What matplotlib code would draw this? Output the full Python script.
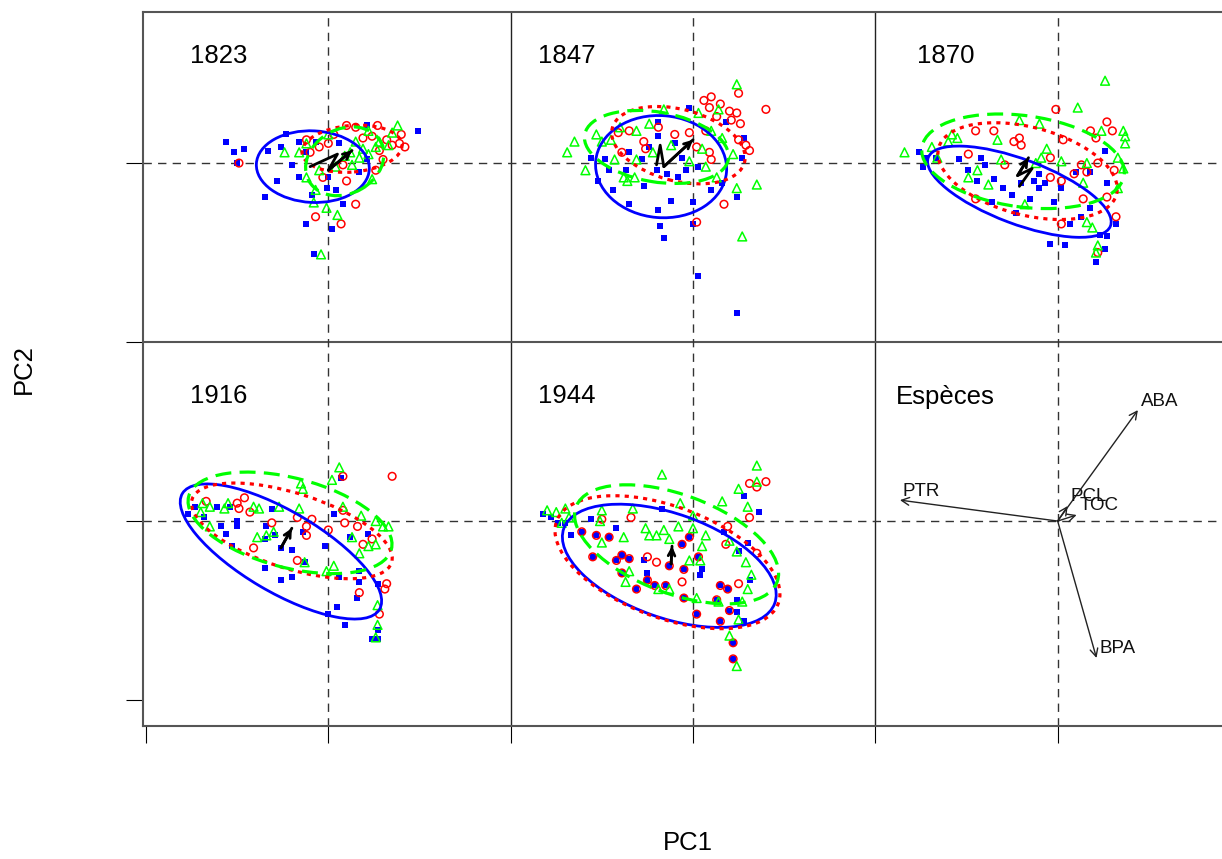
import numpy as np
import matplotlib.pyplot as plt
import matplotlib.transforms as mtransforms
from matplotlib.patches import Ellipse

plt.rcParams['font.family'] = ['Liberation Sans', 'DejaVu Sans']

# ---- scores, relative to each panel's origin ----
years = ["1823", "1847", "1870", "1916", "1944"]

blue_1823 = [(-0.56, 0.12), (-0.52, 0.06), (-0.46, 0.08), (-0.50, 0.0), (0.49, 0.18), (-0.33, 0.07),
             (-0.26, 0.09), (-0.23, 0.16), (-0.20, -0.01), (-0.28, -0.10), (-0.16, -0.08), (-0.35, -0.19),
             (-0.12, -0.34), (-0.08, -0.51), (0.02, -0.37), (0.08, -0.23), (0.04, -0.15), (-0.09, -0.18),
             (-0.01, -0.14), (-0.12, 0.06), (-0.07, 0.12), (0.06, 0.11), (0.21, 0.21), (0.17, -0.05),
             (0.21, 0.02), (-0.16, 0.12), (0.0, -0.08)]
red_1823 = [(0.27, 0.21), (0.15, 0.20), (0.10, 0.21), (0.19, 0.14), (0.24, 0.15), (0.32, 0.13), (0.39, 0.11),
            (0.42, 0.09), (0.40, 0.16), (-0.12, 0.13), (-0.05, 0.09), (-0.10, 0.06), (0.15, -0.23),
            (-0.07, -0.30), (0.07, -0.34), (0.10, -0.10), (0.08, -0.01), (0.28, 0.07), (0.26, -0.04),
            (0.0, 0.11), (0.03, 0.16), (-0.49, 0.0), (-0.03, -0.08), (0.35, 0.10), (0.30, 0.02)]
green_1823 = [(0.38, 0.21), (0.35, 0.17), (0.33, 0.10), (0.22, 0.18), (0.24, -0.09), (-0.07, -0.15),
              (-0.08, -0.22), (-0.01, -0.25), (0.05, -0.29), (-0.04, -0.51), (-0.24, 0.06), (-0.16, 0.06),
              (-0.12, 0.11), (0.0, 0.16), (0.12, 0.06), (0.17, 0.03), (0.13, -0.01), (0.19, 0.08),
              (-0.05, -0.04), (0.04, -0.02), (0.28, 0.12), (-0.12, -0.08), (0.22, 0.05), (0.26, 0.09),
              (0.15, 0.12), (0.09, 0.04)]

blue_1847 = [(-0.56, 0.03), (-0.52, -0.10), (-0.46, -0.04), (-0.35, -0.23), (-0.44, -0.15), (-0.27, -0.13),
             (-0.19, -0.26), (-0.18, -0.35), (-0.16, -0.42), (-0.12, -0.21), (0.0, -0.22), (0.0, -0.34),
             (0.24, -0.19), (0.28, 0.14), (0.18, 0.23), (0.27, 0.03), (-0.02, 0.31), (-0.19, 0.23),
             (-0.19, 0.15), (-0.35, 0.06), (-0.37, -0.04), (-0.28, 0.02), (-0.20, -0.04), (-0.14, -0.06),
             (-0.08, -0.08), (-0.04, -0.04), (-0.06, 0.03), (-0.10, 0.11), (0.03, -0.02), (0.10, -0.15),
             (0.16, -0.11), (-0.48, 0.02), (-0.24, 0.09), (0.24, -0.84), (0.03, -0.63)]
red_1847 = [(0.10, 0.37), (0.25, 0.39), (0.20, 0.29), (0.24, 0.28), (0.26, 0.22), (0.21, 0.24), (0.40, 0.30),
            (0.31, 0.07), (0.29, 0.10), (0.09, 0.31), (0.13, 0.26), (0.07, 0.18), (0.09, 0.06), (0.10, 0.02),
            (-0.02, 0.17), (0.02, 0.09), (-0.10, 0.16), (-0.26, 0.08), (-0.35, 0.18), (-0.41, 0.17),
            (-0.39, 0.06), (-0.27, 0.12), (0.17, -0.23), (0.02, -0.33), (0.25, 0.13), (-0.19, 0.20),
            (0.06, 0.35), (0.15, 0.33)]
green_1847 = [(0.24, 0.44), (-0.65, 0.12), (-0.69, 0.06), (-0.59, -0.04), (-0.43, 0.02), (-0.53, 0.16),
              (-0.50, 0.12), (-0.45, 0.13), (-0.36, -0.10), (-0.32, -0.08), (-0.38, -0.08), (-0.31, 0.18),
              (-0.24, 0.22), (-0.16, 0.30), (-0.22, 0.06), (-0.12, 0.10), (0.03, 0.28), (0.05, 0.08),
              (0.13, -0.08), (0.07, -0.02), (0.16, 0.14), (0.22, 0.05), (0.24, -0.14), (0.35, -0.12),
              (0.27, -0.41), (0.14, 0.30), (-0.02, 0.01), (-0.31, 0.02), (0.10, 0.18), (-0.40, 0.20)]

blue_1870 = [(-0.76, 0.06), (-0.74, -0.02), (-0.72, 0.03), (-0.67, 0.03), (-0.54, 0.02), (-0.49, -0.04),
             (-0.42, 0.03), (-0.40, -0.01), (-0.35, -0.09), (-0.30, -0.14), (-0.25, -0.18), (-0.23, -0.28),
             (-0.36, -0.22), (-0.15, -0.20), (-0.10, -0.14), (-0.07, -0.11), (-0.10, -0.06), (-0.02, -0.22),
             (0.02, -0.14), (0.07, -0.34), (0.13, -0.30), (0.18, -0.25), (0.18, -0.05), (0.26, 0.07),
             (0.27, -0.11), (0.32, -0.34), (0.23, -0.40), (0.27, -0.41), (0.26, -0.48), (0.21, -0.55),
             (-0.04, -0.45), (0.04, -0.46), (0.10, -0.05), (-0.13, -0.10), (-0.20, -0.11), (-0.44, -0.10)]
red_1870 = [(-0.01, 0.30), (0.27, 0.23), (0.30, 0.18), (0.18, 0.18), (0.21, 0.14), (0.03, 0.13), (-0.24, 0.12),
            (-0.20, 0.10), (-0.21, 0.14), (-0.45, 0.18), (-0.35, 0.18), (-0.49, 0.05), (-0.04, 0.03),
            (0.09, -0.06), (0.16, -0.05), (0.13, -0.01), (0.22, 0.0), (0.31, -0.04), (0.27, -0.19),
            (0.14, -0.20), (0.02, -0.34), (0.32, -0.30), (0.02, -0.10), (-0.04, -0.08), (-0.45, -0.20),
            (-0.29, -0.01), (0.22, -0.50)]
green_1870 = [(0.26, 0.46), (0.11, 0.31), (-0.21, 0.24), (-0.10, 0.22), (-0.33, 0.13), (0.24, 0.18),
              (0.36, 0.18), (0.37, 0.15), (0.37, 0.11), (0.33, 0.03), (0.36, -0.03), (0.16, 0.0),
              (0.14, -0.11), (0.33, -0.14), (0.16, -0.33), (0.19, -0.36), (0.22, -0.46), (0.21, -0.50),
              (-0.06, 0.08), (-0.09, 0.03), (-0.18, -0.23), (-0.38, -0.12), (-0.49, -0.08), (-0.44, -0.04),
              (-0.84, 0.06), (-0.58, 0.16), (-0.55, 0.14), (-0.60, 0.12), (-0.69, 0.09), (-0.66, 0.03),
              (-0.31, 0.02), (0.02, 0.01), (-0.12, 0.0)]

blue_1916 = [(-0.77, 0.04), (-0.73, 0.08), (-0.68, 0.02), (-0.59, -0.03), (-0.56, -0.07), (-0.50, 0.0),
             (-0.50, -0.03), (-0.53, -0.14), (-0.54, 0.08), (-0.61, 0.08), (-0.35, -0.26), (-0.26, -0.33),
             (-0.20, -0.31), (-0.26, -0.15), (-0.29, -0.08), (-0.34, -0.03), (-0.35, -0.10), (-0.20, -0.16),
             (-0.14, -0.06), (-0.13, -0.23), (-0.02, -0.14), (0.03, 0.04), (0.07, 0.24), (0.12, -0.09),
             (0.17, -0.28), (0.17, -0.34), (0.16, -0.43), (0.06, -0.31), (0.05, -0.48), (0.0, -0.52),
             (0.09, -0.58), (0.27, -0.61), (0.24, -0.66), (0.27, -0.66), (0.22, -0.07), (0.27, -0.35),
             (-0.31, 0.07)]
red_1916 = [(0.35, 0.25), (0.08, 0.25), (-0.67, 0.11), (-0.50, 0.10), (-0.46, 0.13), (-0.43, 0.05),
            (-0.49, 0.07), (-0.31, -0.01), (-0.17, 0.02), (-0.09, 0.01), (-0.12, -0.03), (-0.12, -0.08),
            (0.0, -0.05), (-0.17, -0.22), (-0.41, -0.15), (0.09, -0.01), (0.16, -0.03), (0.24, -0.10),
            (0.19, -0.13), (0.32, -0.35), (0.31, -0.38), (0.17, -0.40), (0.28, -0.52), (0.08, 0.06)]
green_1916 = [(0.06, 0.30), (0.02, 0.23), (-0.15, 0.21), (-0.14, 0.18), (-0.16, 0.07), (-0.27, 0.08),
              (-0.38, 0.07), (-0.41, 0.08), (-0.55, 0.10), (-0.57, 0.07), (-0.65, 0.08), (-0.69, 0.10),
              (-0.70, 0.05), (-0.65, -0.03), (-0.39, -0.09), (-0.34, -0.08), (-0.30, -0.06), (0.08, 0.08),
              (0.18, 0.03), (0.26, 0.0), (0.30, -0.03), (0.33, -0.03), (0.13, -0.09), (0.26, -0.13),
              (0.22, -0.14), (0.17, -0.18), (0.03, -0.25), (-0.01, -0.28), (-0.13, -0.23), (0.27, -0.47),
              (0.27, -0.58), (0.26, -0.65)]

blue_1944 = [(-0.82, 0.04), (-0.78, 0.02), (-0.74, -0.01), (-0.70, -0.01), (-0.61, -0.06), (-0.56, 0.01),
             (-0.53, -0.08), (-0.46, -0.09), (-0.42, -0.04), (-0.55, -0.20), (-0.42, -0.22), (-0.39, -0.19),
             (-0.35, -0.21), (-0.39, -0.29), (-0.27, -0.22), (-0.25, -0.29), (-0.25, -0.33), (-0.21, -0.36),
             (-0.31, -0.38), (-0.15, -0.36), (-0.13, -0.25), (-0.05, -0.27), (-0.06, -0.13), (-0.02, -0.09),
             (-0.05, -0.43), (0.02, -0.52), (0.05, -0.27), (0.04, -0.30), (0.03, -0.20), (0.15, -0.36),
             (0.19, -0.38), (0.13, -0.44), (0.15, -0.56), (0.20, -0.50), (0.24, -0.51), (0.24, -0.44),
             (0.28, -0.56), (0.22, -0.68), (0.22, -0.77), (0.17, -0.06), (0.28, 0.14), (0.36, 0.05),
             (0.30, -0.12), (0.31, -0.33), (0.25, -0.17), (-0.17, 0.07), (-0.67, -0.08)]
red_1944 = [(-0.61, -0.06), (-0.53, -0.08), (-0.46, -0.09), (-0.55, -0.20), (-0.42, -0.22), (-0.39, -0.19),
            (-0.35, -0.21), (-0.39, -0.29), (-0.25, -0.33), (-0.21, -0.36), (-0.31, -0.38), (-0.15, -0.36),
            (-0.13, -0.25), (-0.05, -0.27), (-0.06, -0.13), (-0.05, -0.43), (0.02, -0.52), (0.03, -0.20),
            (0.15, -0.36), (0.19, -0.38), (0.13, -0.44), (0.15, -0.56), (0.20, -0.50), (0.22, -0.68),
            (0.22, -0.77), (0.31, 0.21), (0.35, 0.19), (0.40, 0.22), (0.31, 0.02), (0.19, -0.03),
            (-0.34, 0.02), (-0.50, 0.01), (-0.25, -0.20), (-0.20, -0.23), (-0.06, -0.34), (0.25, -0.35),
            (-0.02, -0.09), (0.18, -0.13), (0.35, -0.18)]
green_1944 = [(0.35, 0.31), (0.35, 0.22), (-0.17, 0.26), (0.25, 0.18), (0.16, 0.11), (0.30, 0.08), (-0.07, 0.10),
              (-0.33, 0.07), (-0.50, 0.06), (-0.51, 0.0), (-0.50, -0.12), (-0.38, -0.09), (-0.26, -0.04),
              (-0.24, -0.08), (-0.20, -0.08), (-0.16, -0.05), (-0.13, -0.10), (-0.08, -0.03), (0.0, 0.03),
              (0.0, -0.04), (-0.02, -0.22), (0.05, -0.14), (0.04, -0.22), (0.07, -0.08), (0.20, -0.11),
              (0.24, -0.17), (0.29, -0.23), (0.32, -0.30), (0.30, -0.38), (0.27, -0.45), (0.25, -0.55),
              (0.20, -0.64), (0.24, -0.81), (0.02, -0.43), (-0.13, -0.38), (-0.19, -0.38), (-0.37, -0.34),
              (-0.35, -0.28), (0.14, -0.45), (-0.80, 0.06), (-0.75, 0.05), (-0.70, 0.07), (-0.68, 0.02),
              (-0.72, -0.01)]

blue_pts = [blue_1823, blue_1847, blue_1870, blue_1916, blue_1944]
red_pts = [red_1823, red_1847, red_1870, red_1916, red_1944]
green_pts = [green_1823, green_1847, green_1870, green_1916, green_1944]

# ellipses: (centre x, centre y, width, height, angle)
blue_ell = [(-0.085, -0.02, 0.62, 0.40, -3), (-0.175, -0.02, 0.72, 0.57, -5), (-0.21, -0.16, 1.07, 0.36, -21),
            (-0.26, -0.17, 1.26, 0.45, -31), (-0.13, -0.25, 1.23, 0.58, -20)]
red_ell = [(0.13, 0.08, 0.55, 0.26, 5), (-0.08, 0.10, 0.75, 0.40, -15), (-0.165, -0.045, 1.01, 0.49, -15),
           (-0.20, -0.055, 1.15, 0.42, -18), (-0.14, -0.23, 1.30, 0.62, -21)]
green_ell = [(0.09, 0.01, 0.45, 0.36, 30), (-0.20, 0.09, 0.80, 0.39, -10), (-0.19, 0.01, 1.12, 0.51, -8),
             (-0.21, -0.01, 1.15, 0.50, -15), (-0.09, -0.13, 1.18, 0.55, -21)]

# trajectory of the mean (black arrows)
traj = [[(-0.10, -0.02), (0.05, 0.05), (0.0, -0.04), (0.13, 0.07)],
        [(-0.20, -0.01), (-0.18, 0.10), (-0.16, -0.02), (0.0, 0.13)],
        [(-0.21, -0.13), (-0.14, -0.03), (-0.22, -0.07), (-0.16, 0.03)],
        [(-0.26, -0.15), (-0.20, -0.04)],
        [(-0.12, -0.24), (-0.115, -0.14)]]

species = ["ABA", "PTR", "BPA", "PCL", "TOC"]
species_x = [0.44, -0.865, 0.213, 0.055, 0.104]
species_y = [0.62, 0.117, -0.765, 0.084, 0.034]

# panel origins in the outer frame, and title spots
centres = [(1, 3), (3, 3), (5, 3), (1, 1), (3, 1)]
species_centre = (5, 1)
title_pos = [(-0.76, 0.60), (-0.85, 0.60), (-0.77, 0.60), (-0.76, 0.70), (-0.85, 0.70)]

fig = plt.figure(figsize=(12.22, 8.59), dpi=100)
ax = fig.add_axes([143 / 1222, 133 / 859, 1097 / 1222, 714 / 859])
ax.set_xlim(-0.0164, 5.988)
ax.set_ylim(-0.145, 3.844)

for s in ['left', 'top', 'bottom']:
    ax.spines[s].set_color('#555555')
    ax.spines[s].set_linewidth(1.5)
ax.spines['right'].set_visible(False)
ax.set_xticks(range(0, 7))
ax.set_yticks(range(0, 4))
ax.tick_params(length=12.5, width=0.8, direction='out', labelbottom=False, labelleft=False)

# frame dividers and crosshairs
ax.axvline(2, color='#222222', lw=1.0, zorder=1)
ax.axvline(4, color='#222222', lw=1.0, zorder=1)
ax.axhline(2, color='#555555', lw=1.5, zorder=1)
for xc in [1, 3, 5]:
    ax.axvline(xc, color='#333333', lw=1.0, dashes=(6, 4.5), zorder=1)
for yc in [1, 3]:
    ax.axhline(yc, color='#333333', lw=1.0, dashes=(6, 4.5), zorder=1)

for i, year in enumerate(years):
    cx, cy = centres[i]
    tr = mtransforms.Affine2D().translate(cx, cy) + ax.transData
    b = np.array(blue_pts[i])
    r = np.array(red_pts[i])
    g = np.array(green_pts[i])
    ax.scatter(b[:, 0], b[:, 1], s=20, marker='s', color='#0000FF', linewidths=0, transform=tr, zorder=2)
    ax.scatter(r[:, 0], r[:, 1], s=30, marker='o', facecolors='none', edgecolors='#FF0000',
               linewidths=1.1, transform=tr, zorder=2)
    ax.scatter(g[:, 0], g[:, 1], s=40, marker='^', facecolors='none', edgecolors='#00FF00',
               linewidths=1.1, transform=tr, zorder=2)

    ex, ey, w, h, a = blue_ell[i]
    ax.add_patch(Ellipse((ex, ey), w, h, angle=a, fill=False, ec='#0000FF', lw=2.0, transform=tr, zorder=3))
    ex, ey, w, h, a = red_ell[i]
    ax.add_patch(Ellipse((ex, ey), w, h, angle=a, fill=False, ec='#FF0000', lw=2.3,
                         linestyle=(0, (1.3, 1.6)), transform=tr, zorder=3))
    ex, ey, w, h, a = green_ell[i]
    ax.add_patch(Ellipse((ex, ey), w, h, angle=a, fill=False, ec='#00FF00', lw=2.3,
                         linestyle=(0, (5, 2.6)), transform=tr, zorder=3))

    t = np.array(traj[i])
    ax.plot(t[:, 0], t[:, 1], color='black', lw=2.0, transform=tr, zorder=4, solid_capstyle='round')
    ax.annotate('', xy=tuple(t[-1]), xytext=tuple(t[-2]), xycoords=tr, textcoords=tr,
                arrowprops=dict(arrowstyle='->', color='black', lw=2.0, shrinkA=0, shrinkB=0,
                                mutation_scale=12), zorder=4)

    ax.text(title_pos[i][0], title_pos[i][1], year, transform=tr, fontsize=18.5,
            ha='left', va='center', zorder=5)

# species panel
cx, cy = species_centre
tr = mtransforms.Affine2D().translate(cx, cy) + ax.transData
for name, sx, sy in zip(species, species_x, species_y):
    ax.annotate('', xy=(sx, sy), xytext=(0, 0), xycoords=tr, textcoords=tr,
                arrowprops=dict(arrowstyle='->', color='#222222', lw=1.0, shrinkA=0, shrinkB=0,
                                mutation_scale=14))
    ax.annotate(name, xy=(sx, sy), xycoords=tr, xytext=(2, 6.5), textcoords='offset points',
                fontsize=13.5, ha='left', va='center', color='#111111')
ax.text(-0.887, 0.693, "Espèces", transform=tr, fontsize=18.5, ha='left', va='center')

fig.text(688 / 1222, 1 - 843 / 859, "PC1", ha='center', va='center', fontsize=18.5)
fig.text(24 / 1222, 1 - 369 / 859, "PC2", ha='center', va='center', rotation=90, fontsize=18.5)

fig.savefig("out.png", dpi=100)
